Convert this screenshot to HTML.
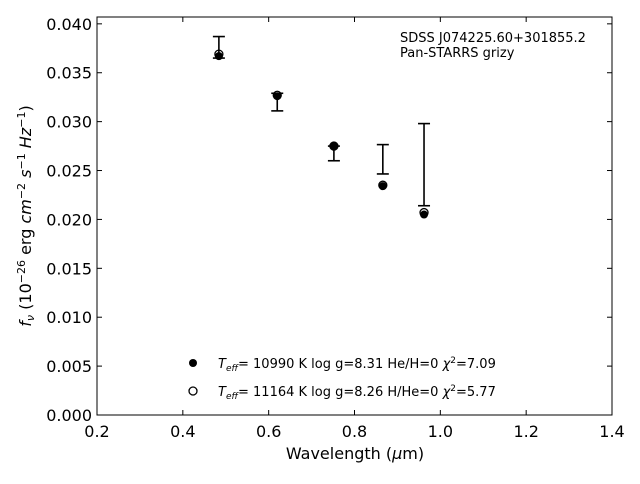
<!DOCTYPE html>
<html><head><meta charset="utf-8"><style>
body{margin:0;background:#fff;font-family:"DejaVu Sans","Liberation Sans",sans-serif}
svg text{font-family:"DejaVu Sans","Liberation Sans",sans-serif;fill:#000}
</style></head><body>
<svg id="c" width="640" height="480" xmlns="http://www.w3.org/2000/svg">
<rect x="0" y="0" width="640" height="480" fill="#fff"/>
<g id="axes"></g>
<g id="marks"></g>
<text x="400" y="42" font-size="13">SDSS J074225.60+301855.2</text>
<text x="400" y="57" font-size="13">Pan-STARRS grizy</text>
<circle cx="193" cy="363" r="4" fill="#000"/>
<text x="218" y="368" font-size="13"><tspan font-style="italic">T</tspan><tspan font-style="italic" font-size="9" dy="3">eff</tspan><tspan dy="-3">= 10990 K  log g=8.31  He/H=0  </tspan><tspan font-style="italic">χ</tspan><tspan font-size="9" dy="-5">2</tspan><tspan dy="5">=7.09</tspan></text>
<circle cx="193" cy="391" r="4" fill="#fff" stroke="#000" stroke-width="1.3"/>
<text x="218" y="396" font-size="13"><tspan font-style="italic">T</tspan><tspan font-style="italic" font-size="9" dy="3">eff</tspan><tspan dy="-3">= 11164 K  log g=8.26  H/He=0  </tspan><tspan font-style="italic">χ</tspan><tspan font-size="9" dy="-5">2</tspan><tspan dy="5">=5.77</tspan></text>
<text x="355" y="459" font-size="16" text-anchor="middle">Wavelength (<tspan font-style="italic">μ</tspan>m)</text>
<text transform="translate(31,216) rotate(-90)" font-size="16" text-anchor="middle"><tspan font-style="italic">f</tspan><tspan font-style="italic" font-size="11" dy="3">ν</tspan><tspan dy="-3"> (10</tspan><tspan font-size="11" dy="-6">−26</tspan><tspan dy="6"> erg </tspan><tspan font-style="italic">cm</tspan><tspan font-size="11" dy="-6">−2</tspan><tspan dy="6"> </tspan><tspan font-style="italic">s</tspan><tspan font-size="11" dy="-6">−1</tspan><tspan dy="6"> </tspan><tspan font-style="italic">Hz</tspan><tspan font-size="11" dy="-6">−1</tspan><tspan dy="6">)</tspan></text>
</svg>
<script>
const wavelengths=[0.484,0.620,0.752,0.866,0.962];
const obsFlux=[0.0376,0.0320,0.02675,0.02615,0.0256];
const obsErr=[0.0011,0.0009,0.00075,0.0015,0.0042];
const modelHe=[0.0367,0.0326,0.0275,0.0234,0.0205];
const modelH=[0.0369,0.0327,0.0275,0.0235,0.0207];
const xTicks=[0.2,0.4,0.6,0.8,1.0,1.2,1.4];
const yTicks=[0,0.005,0.010,0.015,0.020,0.025,0.030,0.035,0.040];
const X0=97,X1=612,Y0=415,Y1=17;
const sx=v=>X0+(v-0.2)/1.2*(X1-X0);
const sy=v=>Y0-v/0.0407*(Y0-Y1);
const NS="http://www.w3.org/2000/svg";
function mk(p,t,a){const e=document.createElementNS(NS,t);for(const k in a)e.setAttribute(k,a[k]);p.appendChild(e);return e;}
const ax=document.getElementById('axes'),mg=document.getElementById('marks');
const fr=mk(ax,'rect',{x:X0,y:Y1,width:X1-X0,height:Y0-Y1,fill:'none',stroke:'#000','stroke-width':1});


xTicks.forEach(t=>{const x=sx(t);
mk(ax,'line',{x1:x,x2:x,y1:Y0,y2:Y0-5,stroke:'#000'});mk(ax,'line',{x1:x,x2:x,y1:Y1,y2:Y1+5,stroke:'#000'});
const l=mk(ax,'text',{x:x,y:Y0+22,'font-size':16,'text-anchor':'middle'});l.textContent=t.toFixed(1);

});
yTicks.forEach(t=>{const y=sy(t);
mk(ax,'line',{x1:X0,x2:X0+5,y1:y,y2:y,stroke:'#000'});mk(ax,'line',{x1:X1,x2:X1-5,y1:y,y2:y,stroke:'#000'});
const l=mk(ax,'text',{x:X0-5,y:y+6,'font-size':16,'text-anchor':'end'});l.textContent=t.toFixed(3);

});
wavelengths.forEach((w,i)=>{const x=sx(w);
const c1=mk(mg,'circle',{cx:x,cy:sy(modelH[i]),r:4,fill:'#fff',stroke:'#000','stroke-width':1.3});


const c2=mk(mg,'circle',{cx:x,cy:sy(modelHe[i]),r:4,fill:'#000'});


const g=mk(mg,'g',{stroke:'#000','stroke-width':1.6});


const yt=sy(obsFlux[i]+obsErr[i]),yb=sy(obsFlux[i]-obsErr[i]);
mk(g,'line',{x1:x,x2:x,y1:yt,y2:yb});mk(g,'line',{x1:x-6,x2:x+6,y1:yt,y2:yt});mk(g,'line',{x1:x-6,x2:x+6,y1:yb,y2:yb});});
</script>
</body></html>
